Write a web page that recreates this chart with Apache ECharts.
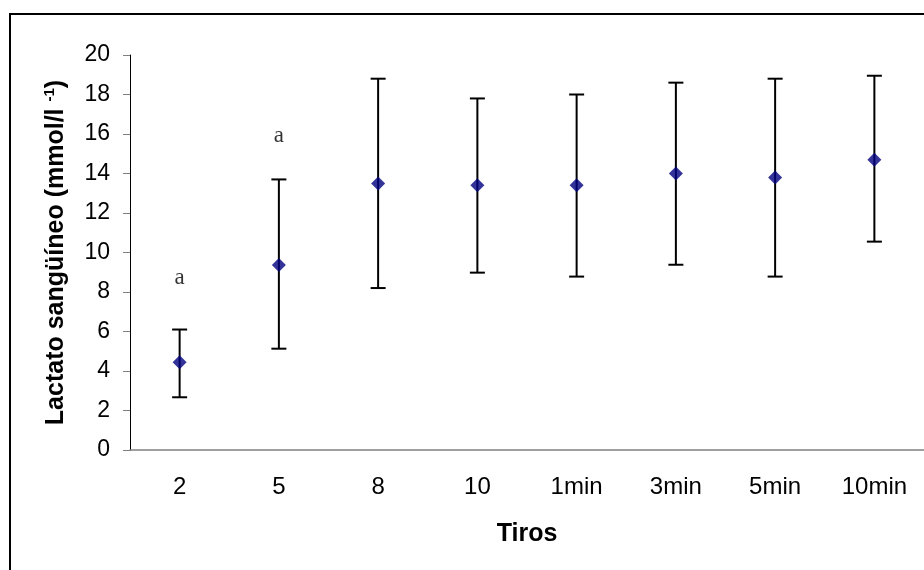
<!DOCTYPE html>
<html>
<head>
<meta charset="utf-8">
<script src="https://cdn.jsdelivr.net/npm/echarts@6/dist/echarts.min.js"></script>
<style>
html,body{margin:0;padding:0;background:#fff;}
#chart{width:924px;height:570px;}
</style>
</head>
<body>
<div id="chart"></div>
<script>
// ---- data ----
var categories = ['2', '5', '8', '10', '1min', '3min', '5min', '10min'];
var means  = [4.44, 9.37, 13.5, 13.4, 13.4, 14.0, 13.8, 14.7];
var upper  = [6.1, 13.7, 18.8, 17.8, 18.0, 18.6, 18.8, 18.95];
var lower  = [2.67, 5.13, 8.2, 8.98, 8.78, 9.38, 8.78, 10.55];
var annoCats   = ['2', '5'];
var annoValues = [8.7, 15.9];
var annoTexts  = ['a', 'a'];
var yTicks = [0, 2, 4, 6, 8, 10, 12, 14, 16, 18, 20];

var errData = categories.map(function (c, i) { return [i, lower[i], upper[i]]; });
var annoData = annoCats.map(function (c, i) { return { value: [categories.indexOf(c), annoValues[i]], label: { formatter: annoTexts[i] } }; });

var chart = echarts.init(document.getElementById('chart'), null, { renderer: 'canvas' });
chart.setOption({
  backgroundColor: '#fff',
  animation: false,
  graphic: [{
    type: 'rect', z: 100, silent: true,
    shape: { x: 10, y: 14, width: 1000, height: 1000 },
    style: { fill: 'none', stroke: '#000', lineWidth: 2 }
  }],
  grid: { left: 130, top: 55, width: 796, height: 395, containLabel: false },
  xAxis: {
    type: 'category',
    data: categories,
    boundaryGap: true,
    axisLine: { lineStyle: { color: '#808080', width: 1.5 } },
    axisTick: { show: false },
    axisLabel: { color: '#000', fontFamily: 'Liberation Sans, Arial', fontSize: 24, margin: 25 },
    name: 'Tiros',
    nameLocation: 'middle',
    nameGap: 72,
    nameTextStyle: { color: '#000', fontFamily: 'Liberation Sans, Arial', fontSize: 25, fontWeight: 'bold' },
    splitLine: { show: false }
  },
  yAxis: {
    type: 'value',
    min: yTicks[0], max: yTicks[yTicks.length - 1], interval: 2,
    axisLine: { show: true, lineStyle: { color: '#000', width: 1 } },
    axisTick: { show: true, length: 7, lineStyle: { color: '#808080' } },
    axisLabel: { color: '#000', fontFamily: 'Liberation Sans, Arial', fontSize: 23, margin: 20 },
    splitLine: { show: false },
    name: 'Lactato sangüíneo (mmol/l {sup|-1})',
    nameLocation: 'middle',
    nameRotate: 90,
    nameGap: 60,
    nameTextStyle: {
      color: '#000', fontFamily: 'Liberation Sans, Arial', fontSize: 25, fontWeight: 'bold',
      rich: {
        sup: { color: '#000', fontFamily: 'Liberation Sans, Arial', fontSize: 15, fontWeight: 'bold', verticalAlign: 'top', lineHeight: 28 }
      }
    }
  },
  series: [
    {
      type: 'custom',
      data: errData,
      z: 2,
      renderItem: function (params, api) {
        var x = api.value(0);
        var lo = api.coord([x, api.value(1)]);
        var hi = api.coord([x, api.value(2)]);
        var cap = 7.5;
        var st = { stroke: '#000', lineWidth: 2 };
        return {
          type: 'group',
          children: [
            { type: 'line', shape: { x1: lo[0], y1: lo[1], x2: hi[0], y2: hi[1] }, style: st },
            { type: 'line', shape: { x1: hi[0] - cap, y1: hi[1], x2: hi[0] + cap, y2: hi[1] }, style: st },
            { type: 'line', shape: { x1: lo[0] - cap, y1: lo[1], x2: lo[0] + cap, y2: lo[1] }, style: st }
          ]
        };
      }
    },
    {
      type: 'scatter',
      data: means,
      symbol: 'diamond',
      symbolSize: [14, 14],
      itemStyle: { color: '#000080' },
      z: 5
    },
    {
      type: 'scatter',
      data: annoData,
      symbolSize: 0,
      label: {
        show: true, position: 'inside',
        color: '#000', fontFamily: 'Liberation Serif, Times New Roman', fontSize: 23
      },
      z: 6
    }
  ]
});
</script>
</body>
</html>
